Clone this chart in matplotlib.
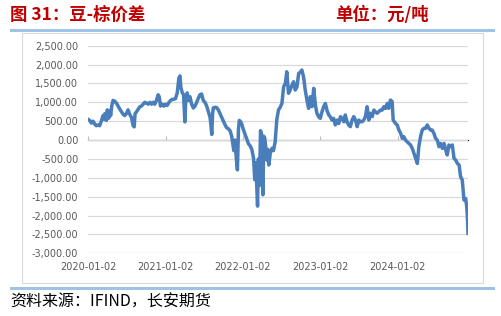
import numpy as np
import pandas as pd
import matplotlib
matplotlib.use("Agg")
import matplotlib.pyplot as plt
import matplotlib.dates as mdates
from matplotlib.patches import Rectangle
from matplotlib.ticker import FuncFormatter

plt.rcParams['font.family'] = ['Noto Sans CJK SC', 'DejaVu Sans']

# ----------------------------------------------------------------------
# Data: soybean oil - palm oil spread (yuan/ton)
# ----------------------------------------------------------------------
dates_2020 = ["2020-01-02", "2020-01-10", "2020-01-18", "2020-01-26", "2020-02-03", "2020-02-10",
              "2020-02-18", "2020-02-26", "2020-03-05", "2020-03-13", "2020-03-18", "2020-03-22",
              "2020-03-29", "2020-04-02", "2020-04-09", "2020-04-14", "2020-04-18", "2020-04-23",
              "2020-04-29", "2020-05-07", "2020-05-15", "2020-05-23", "2020-05-31", "2020-06-08",
              "2020-06-16", "2020-06-23", "2020-07-01", "2020-07-09", "2020-07-17", "2020-07-25",
              "2020-08-02", "2020-08-07", "2020-08-11", "2020-08-18", "2020-08-26", "2020-09-02",
              "2020-09-10", "2020-09-18", "2020-09-26", "2020-10-04", "2020-10-12", "2020-10-20",
              "2020-10-28", "2020-11-05", "2020-11-12", "2020-11-20", "2020-11-28", "2020-12-03",
              "2020-12-09", "2020-12-17", "2020-12-25"]
spread_2020 = [550, 520, 450, 500, 420, 380,
               400, 380, 500, 650, 550, 700,
               520, 800, 580, 780, 650, 900,
               1050, 1030, 980, 900, 820, 750,
               680, 650, 700, 800, 680, 600,
               380, 350, 700, 750, 820, 880,
               900, 950, 1000, 980, 950, 1000,
               950, 1000, 950, 1050, 1200, 1150,
               900, 950, 900]

dates_2021 = ["2021-01-02", "2021-01-10", "2021-01-18", "2021-01-26", "2021-02-02", "2021-02-10",
              "2021-02-18", "2021-02-26", "2021-03-06", "2021-03-11", "2021-03-15", "2021-03-22",
              "2021-03-28", "2021-04-03", "2021-04-08", "2021-04-14", "2021-04-21", "2021-04-27",
              "2021-05-05", "2021-05-13", "2021-05-21", "2021-05-29", "2021-06-05", "2021-06-13",
              "2021-06-21", "2021-06-29", "2021-07-07", "2021-07-15", "2021-07-23", "2021-07-31",
              "2021-08-04", "2021-08-08", "2021-08-12", "2021-08-15", "2021-08-23", "2021-08-31",
              "2021-09-08", "2021-09-16", "2021-09-24", "2021-10-02", "2021-10-10", "2021-10-17",
              "2021-10-25", "2021-11-02", "2021-11-10", "2021-11-15", "2021-11-20", "2021-11-26",
              "2021-12-02", "2021-12-07", "2021-12-12", "2021-12-16", "2021-12-23", "2021-12-29"]
spread_2021 = [950, 920, 1000, 1050, 1080, 1080,
               1100, 1250, 1650, 1700, 1400, 1250,
               1200, 480, 1150, 1250, 1050, 1150,
               950, 850, 900, 1000, 1100, 1200,
               1220, 1050, 1000, 900, 750, 600,
               400, 150, 700, 850, 870, 860,
               800, 700, 600, 500, 400, 330,
               300, 250, 100, -100, -280, 0,
               -500, -790, 300, 520, 480, 400]

dates_2022 = ["2022-01-04", "2022-01-12", "2022-01-20", "2022-01-28", "2022-02-05", "2022-02-13",
              "2022-02-21", "2022-02-27", "2022-03-04", "2022-03-09", "2022-03-12", "2022-03-16",
              "2022-03-21", "2022-03-26", "2022-03-31", "2022-04-03", "2022-04-06", "2022-04-11",
              "2022-04-15", "2022-04-20", "2022-04-25", "2022-04-30", "2022-05-04", "2022-05-11",
              "2022-05-19", "2022-05-26", "2022-06-03", "2022-06-11", "2022-06-19", "2022-06-27",
              "2022-07-05", "2022-07-13", "2022-07-21", "2022-07-28", "2022-08-05", "2022-08-13",
              "2022-08-21", "2022-08-29", "2022-09-06", "2022-09-14", "2022-09-22", "2022-09-30",
              "2022-10-07", "2022-10-15", "2022-10-23", "2022-10-31", "2022-11-08", "2022-11-16",
              "2022-11-24", "2022-12-02", "2022-12-10", "2022-12-17", "2022-12-25"]
spread_2022 = [280, 150, 30, -100, -150, -250,
               -480, -1050, -600, -1300, -1750, -500,
               -1200, 250, 150, -900, -1450, 100,
               50, -200, -530, -250, -660, -350,
               -220, -280, -50, 550, 800, 870,
               970, 1410, 1500, 1810, 1240, 1325,
               1450, 1545, 1325, 1410, 1765, 1800,
               1855, 1680, 1325, 1060, 840, 1150,
               885, 1370, 930, 710, 620]

dates_2023 = ["2023-01-02", "2023-01-10", "2023-01-18", "2023-01-26", "2023-02-03", "2023-02-11",
              "2023-02-18", "2023-02-26", "2023-03-06", "2023-03-14", "2023-03-22", "2023-03-30",
              "2023-04-07", "2023-04-15", "2023-04-23", "2023-04-30", "2023-05-08", "2023-05-16",
              "2023-05-24", "2023-06-01", "2023-06-09", "2023-06-17", "2023-06-25", "2023-07-03",
              "2023-07-10", "2023-07-18", "2023-07-26", "2023-08-03", "2023-08-11", "2023-08-19",
              "2023-08-27", "2023-09-04", "2023-09-12", "2023-09-19", "2023-09-27", "2023-10-05",
              "2023-10-13", "2023-10-21", "2023-10-29", "2023-11-06", "2023-11-14", "2023-11-21",
              "2023-11-29", "2023-12-07", "2023-12-12", "2023-12-23", "2023-12-31"]
spread_2023 = [575, 750, 885, 970, 780, 665,
               620, 530, 575, 400, 530, 440,
               620, 575, 485, 665, 485, 400,
               355, 530, 620, 530, 355, 530,
               485, 485, 530, 620, 885, 530,
               710, 620, 795, 750, 710, 750,
               795, 795, 885, 840, 970, 840,
               1060, 1020, 530, 440, 400]

dates_2024 = ["2024-01-08", "2024-01-16", "2024-01-24", "2024-01-31", "2024-02-08", "2024-02-16",
              "2024-02-24", "2024-03-03", "2024-03-11", "2024-03-19", "2024-03-27", "2024-04-04",
              "2024-04-11", "2024-04-19", "2024-04-27", "2024-05-05", "2024-05-13", "2024-05-21",
              "2024-05-29", "2024-06-06", "2024-06-13", "2024-06-21", "2024-06-29", "2024-07-07",
              "2024-07-15", "2024-07-23", "2024-07-31", "2024-08-08", "2024-08-16", "2024-08-23",
              "2024-08-31", "2024-09-08", "2024-09-16", "2024-09-24", "2024-10-02", "2024-10-10",
              "2024-10-18", "2024-10-25", "2024-11-02", "2024-11-10", "2024-11-18", "2024-11-23",
              "2024-11-26", "2024-11-29"]
spread_2024 = [265, 180, 45, 90, 0, -45,
               -90, -130, -220, -350, -485, -620,
               -175, 90, 265, 310, 310, 400,
               310, 265, 265, 180, 45, 0,
               -175, -90, -220, -90, -265, -395,
               -130, -175, -130, -485, -530, -620,
               -660, -970, -1060, -1590, -1550, -1765,
               -2030, -2470]

tick_dates = ["2020-01-02", "2021-01-02", "2022-01-02", "2023-01-02", "2024-01-02"]
y_ticks = np.arange(-3000, 2501, 500)

title_left = "图 31：豆-棕价差"
title_right = "单位：元/吨"
source_text = "资料来源：IFIND，长安期货"

dates = pd.to_datetime(dates_2020 + dates_2021 + dates_2022 + dates_2023 + dates_2024)
spread = np.array(spread_2020 + spread_2021 + spread_2022 + spread_2023 + spread_2024)

# ----------------------------------------------------------------------
# Figure
# ----------------------------------------------------------------------
W, H = 501, 316
fig = plt.figure(figsize=(W / 100, H / 100), dpi=100)

# header / footer decorations (figure pixel coords -> fractions)
def fx(px):
    return px / W

def fy(py):
    return 1 - py / H

fig.text(fx(10), fy(15), title_left, color="#C00000", fontsize=12.5, fontweight="bold",
         va="center", ha="left")
fig.text(fx(335), fy(15), title_right, color="#C00000", fontsize=12.5, fontweight="bold",
         va="center", ha="left")
fig.add_artist(Rectangle((fx(10), fy(32)), fx(485), 3 / H, transform=fig.transFigure,
                         facecolor="#9DC3E6", edgecolor="none"))
fig.add_artist(Rectangle((fx(22), fy(283)), fx(461), 250 / H, transform=fig.transFigure,
                         facecolor="none", edgecolor="#D9D9D9", lw=0.8))
fig.add_artist(Rectangle((fx(10), fy(290)), fx(485), 3 / H, transform=fig.transFigure,
                         facecolor="#9DC3E6", edgecolor="none"))
fig.text(fx(10), fy(302), source_text, color="black", fontsize=11.5, va="center", ha="left")

ax = fig.add_axes([fx(88), fy(253.3), fx(468 - 88), (253.3 - 45.7) / H])
ax.plot(dates, spread, color="#4A7EBB", lw=2.5, solid_joinstyle="round", zorder=3)

ax.set_ylim(-3000, 2500)
ax.set_xlim(pd.Timestamp("2020-01-02"), pd.Timestamp("2024-11-29"))
ax.set_yticks(y_ticks)
ax.yaxis.set_major_formatter(FuncFormatter(lambda v, p: f"{v:,.2f}"))
ax.grid(axis="y", color="#D9D9D9", lw=0.9)
ax.set_axisbelow(True)
for s in ax.spines.values():
    s.set_visible(False)

xt = mdates.date2num(pd.to_datetime(tick_dates))
ax.set_xticks(xt)
ax.set_xticklabels(tick_dates)
ax.tick_params(axis="x", length=0, pad=6, labelsize=7, labelcolor="#595959")
ax.tick_params(axis="y", length=0, pad=7, labelsize=7, labelcolor="#595959")
for lab in ax.get_xticklabels() + ax.get_yticklabels():
    lab.set_family("DejaVu Sans")

# horizontal axis line at zero with small outward tick marks
zero_frac = 3000 / 5500
sec = ax.secondary_xaxis(zero_frac)
sec.set_xticks(xt)
sec.set_xticklabels([])
sec.tick_params(axis="x", direction="out", length=3, color="#BFBFBF", width=0.8)
sec.spines["bottom"].set_color("#D9D9D9")
sec.spines["bottom"].set_linewidth(0.9)

fig.savefig("out.png", dpi=100)
